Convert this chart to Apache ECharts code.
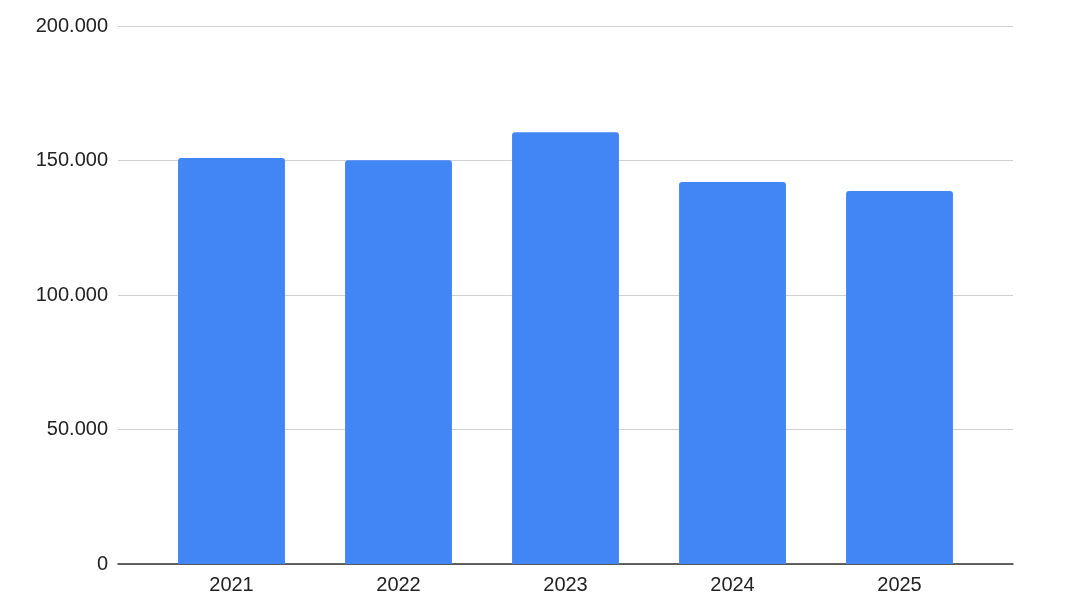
<!DOCTYPE html>
<html><head><meta charset="utf-8">
<script src="https://cdn.jsdelivr.net/npm/echarts@6/dist/echarts.min.js"></script>
<style>html,body{margin:0;padding:0;background:#fff}#c{width:1070px;height:602px}</style>
</head><body><div id="c"></div>
<script>
const categories = ['2021', '2022', '2023', '2024', '2025'];
const values = [150900, 150100, 160500, 142000, 138700];
const yTicks = [0, 50000, 100000, 150000, 200000];

function fmt(v) { return String(v).replace(/\B(?=(\d{3})+(?!\d))/g, '.'); }
const font = 'Liberation Sans, Arial, sans-serif';

const chart = echarts.init(document.getElementById('c'), null, {renderer: 'canvas'});
chart.setOption({
  animation: false,
  grid: [
    {left: 118, right: 57, top: 26, bottom: 38},
    {left: 148, right: 87, top: 26, bottom: 38}
  ],
  xAxis: [
    {
      type: 'category', data: categories, gridIndex: 0,
      axisLine: {lineStyle: {color: '#333', width: 1.5}},
      axisTick: {show: false}, axisLabel: {show: false}
    },
    {
      type: 'category', data: categories, gridIndex: 1,
      axisLine: {show: false}, axisTick: {show: false},
      axisLabel: {color: '#222', fontFamily: font, fontSize: 20, margin: 11}
    }
  ],
  yAxis: [
    {
      type: 'value', gridIndex: 0, min: yTicks[0], max: yTicks[yTicks.length - 1], interval: 50000,
      axisLine: {show: false}, axisTick: {show: false},
      splitLine: {lineStyle: {color: '#d0d0d0', width: 1}},
      axisLabel: {color: '#222', fontFamily: font, fontSize: 20, margin: 10, formatter: fmt}
    },
    {
      type: 'value', gridIndex: 1, min: yTicks[0], max: yTicks[yTicks.length - 1], interval: 50000,
      show: false, splitLine: {show: false}
    }
  ],
  series: [
    {
      type: 'bar', xAxisIndex: 0, yAxisIndex: 0, data: [], silent: true
    },
    {
      type: 'bar', xAxisIndex: 1, yAxisIndex: 1, data: values, barCategoryGap: '36%', z: 3,
      itemStyle: {color: '#4285F4', borderRadius: [3, 3, 0, 0]}
    }
  ]
});
</script></body></html>
